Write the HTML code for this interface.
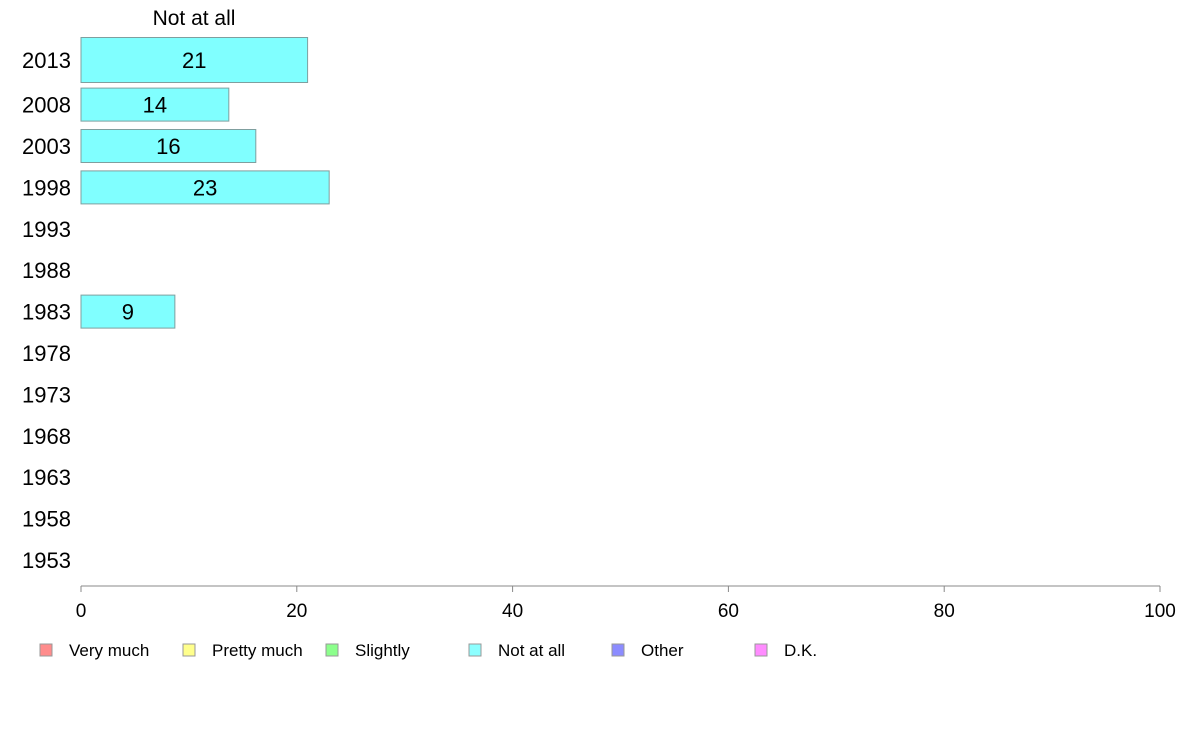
<!DOCTYPE html>
<html><head><meta charset="utf-8"><style>
html,body{margin:0;padding:0;background:#fff;}
svg{display:block;font-family:"Liberation Sans",Arial,sans-serif;}
</style></head><body>
<svg id="chart" width="1188" height="736" viewBox="0 0 1188 736" xmlns="http://www.w3.org/2000/svg">
<text x="194" y="25" font-size="21" text-anchor="middle">Not at all</text>
<g id="bars"></g>
<g id="yaxis"></g>
<g id="xaxis"></g>
<g id="legend"></g>
</svg>
<script>
const years = ["2013","2008","2003","1998","1993","1988","1983","1978","1973","1968","1963","1958","1953"];
const values = [21, 13.7, 16.2, 23, null, null, 8.7, null, null, null, null, null, null];
const valueLabels = ["21","14","16","23","","","9","","","","","",""];
const xTicks = [0,20,40,60,80,100];
const legendLabels = ["Very much","Pretty much","Slightly","Not at all","Other","D.K."];
const legendColors = ["#ff8c8c","#ffff8c","#8cff8c","#8cffff","#8c8cff","#ff8cff"];

const NS="http://www.w3.org/2000/svg";
const x0=81, x1=1160;
const xs=v=>x0+(v/100)*(x1-x0);
const rowY=i=>i===0?60:560-(years.length-1-i)*41.4;
function mk(tag,attrs,parent){const e=document.createElementNS(NS,tag);for(const k in attrs)e.setAttribute(k,attrs[k]);parent.appendChild(e);return e;}
const gb=document.getElementById('bars'), gy=document.getElementById('yaxis'), gx=document.getElementById('xaxis'), gl=document.getElementById('legend');
years.forEach((y,i)=>{
  const cy=rowY(i);
  const t=mk('text',{x:71,y:cy+8,'font-size':22,'text-anchor':'end'},gy);
  t.textContent=y;
  
  
  if(values[i]!=null){
    const h=i===0?45:33;
    const r=mk('rect',{x:x0,y:cy-h/2,width:xs(values[i])-x0,height:h,fill:'#80ffff',stroke:'#7f9f9f','stroke-width':1},gb);
    
    
    const l=mk('text',{x:(x0+xs(values[i]))/2,y:cy+8,'font-size':22,'text-anchor':'middle'},gb);
    l.textContent=valueLabels[i];
    
    
  }
});
const ax=mk('line',{x1:x0,x2:x1,y1:586,y2:586,stroke:'#888','stroke-width':1},gx);


xTicks.forEach(v=>{
  const tk=mk('line',{x1:xs(v),x2:xs(v),y1:586,y2:592,stroke:'#888'},gx);
  
  
  const tl=mk('text',{x:xs(v),y:617,'font-size':19,'text-anchor':'middle'},gx);
  tl.textContent=v;
  
  
});
legendLabels.forEach((lab,i)=>{
  const lx=40+i*143;
  const g=mk('g',{},gl);
  
  
  mk('rect',{x:lx,y:644,width:12,height:12,fill:legendColors[i],stroke:'#999'},g);
  const t=mk('text',{x:lx+29,y:656,'font-size':17},g);
  t.textContent=lab;
});
</script>
</body></html>
